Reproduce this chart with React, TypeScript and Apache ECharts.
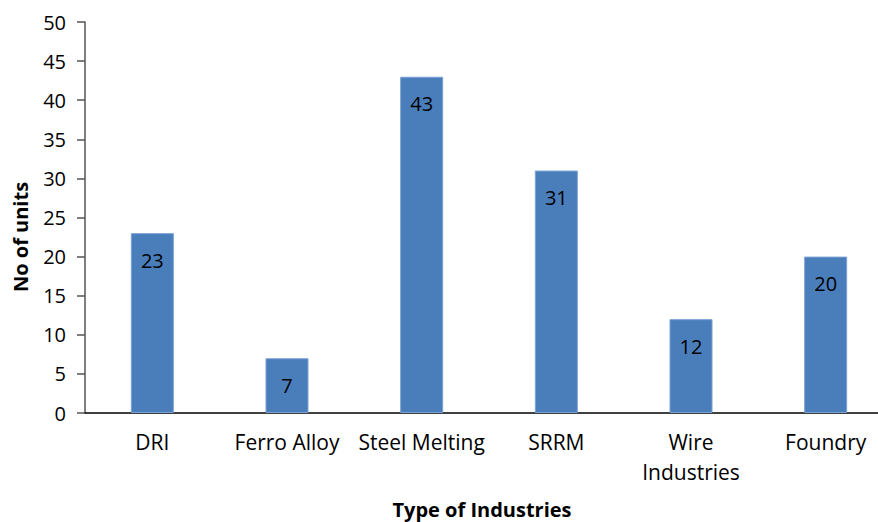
import React, { useEffect, useRef } from "react";
import * as echarts from "echarts";

const categories = ["DRI", "Ferro Alloy", "Steel Melting", "SRRM", "Wire\nIndustries", "Foundry"];
const values = [23, 7, 43, 31, 12, 20];
const yMin = 0;
const yMax = 50;
const yInterval = 5;
const xTitle = "Type of Industries";
const yTitle = "No of units";

const FONT = "'Open Sans', 'Noto Sans', sans-serif";

export default function App() {
  const ref = useRef<HTMLDivElement>(null);
  useEffect(() => {
    if (!ref.current) return;
    const chart = echarts.init(ref.current, undefined, { renderer: "svg" });
    chart.setOption({
      animation: false,
      backgroundColor: "#ffffff",
      grid: { left: 85, top: 22, bottom: 109, right: 7, containLabel: false },
      graphic: [
        {
          type: "text",
          x: 20,
          y: 237,
          rotation: Math.PI / 2,
          style: {
            text: yTitle,
            fontFamily: FONT,
            fontSize: 20,
            fontWeight: "bold",
            fill: "#000",
            align: "center",
            verticalAlign: "middle",
          },
        },
        {
          type: "text",
          x: 482,
          y: 509,
          style: {
            text: xTitle,
            fontFamily: FONT,
            fontSize: 20,
            fontWeight: "bold",
            fill: "#000",
            align: "center",
            verticalAlign: "middle",
          },
        },
      ],
      xAxis: {
        type: "category",
        data: categories,
        axisLine: { lineStyle: { color: "#000", width: 1.5 } },
        axisTick: { show: false },
        axisLabel: { fontFamily: FONT, fontSize: 21, color: "#000", margin: 14, lineHeight: 30, interval: 0 },
      },
      yAxis: {
        type: "value",
        min: yMin,
        max: yMax,
        interval: yInterval,
        axisLine: { show: true, lineStyle: { color: "#555", width: 1.5 } },
        axisTick: { show: true, inside: false, length: 8, lineStyle: { color: "#555", width: 1.5 } },
        splitLine: { show: false },
        axisLabel: { fontFamily: FONT, fontSize: 20, color: "#000", margin: 19 },
      },
      series: [
        {
          type: "bar",
          data: values,
          barWidth: 43,
          itemStyle: { color: "#4a7ebb", borderColor: "#7aa0d4", borderWidth: 1 },
          label: {
            show: true,
            position: "insideTop",
            distance: 17,
            fontFamily: FONT,
            fontSize: 20,
            color: "#000",
          },
        },
      ],
    });
    return () => chart.dispose();
  }, []);
  return (
    <div style={{ position: "fixed", left: 0, top: 0, width: 878, height: 522, overflow: "hidden", background: "#fff" }}>
      <div ref={ref} style={{ width: 900, height: 522 }} />
    </div>
  );
}
